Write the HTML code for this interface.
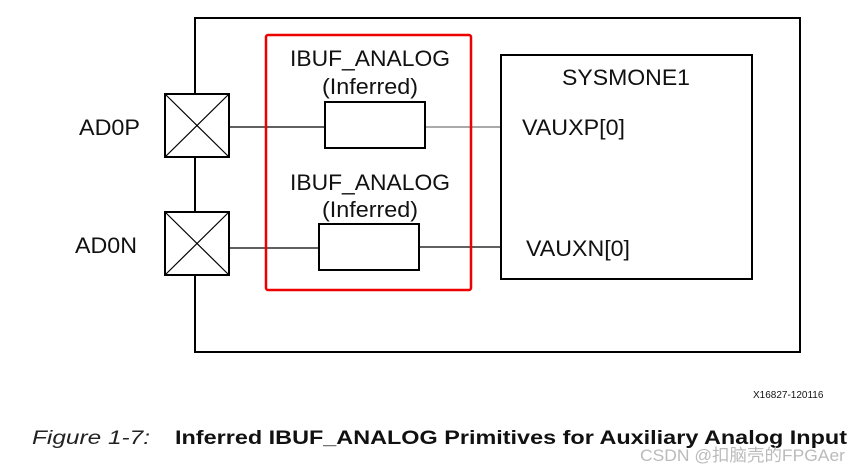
<!DOCTYPE html>
<html><head><style>body{margin:0;background:#fff}svg{display:block}</style></head><body>
<svg width="865" height="473" xmlns="http://www.w3.org/2000/svg" font-family="Liberation Sans, sans-serif">
<rect x="195" y="18" width="605" height="334" fill="none" stroke="#000" stroke-width="2"/>
<g stroke="#000" stroke-width="2" fill="#fff">
<rect x="165" y="94" width="64" height="63"/>
<rect x="165" y="212" width="64" height="63"/>
</g>
<g stroke="#000" stroke-width="1.2">
<line x1="165" y1="94" x2="229" y2="157"/><line x1="229" y1="94" x2="165" y2="157"/>
<line x1="165" y1="212" x2="229" y2="275"/><line x1="229" y1="212" x2="165" y2="275"/>
<line x1="229" y1="127" x2="325" y2="127"/><line x1="425" y1="127" x2="501" y2="127" stroke="#777"/>
<line x1="229" y1="248" x2="319" y2="248"/><line x1="419" y1="247" x2="501" y2="247"/>
</g>
<rect x="266" y="35" width="205" height="255" fill="none" stroke="#e00" stroke-width="2.5" rx="2"/>
<g stroke="#000" stroke-width="2" fill="#fff">
<rect x="325" y="102" width="100" height="46"/>
<rect x="319" y="224" width="100" height="46"/>
<rect x="501" y="55" width="251" height="224"/>
</g>
<g font-size="22" fill="#111">
<text x="290" y="66" textLength="160" lengthAdjust="spacingAndGlyphs">IBUF_ANALOG</text>
<text x="322" y="94" textLength="96" lengthAdjust="spacingAndGlyphs">(Inferred)</text>
<text x="290" y="190" textLength="160" lengthAdjust="spacingAndGlyphs">IBUF_ANALOG</text>
<text x="322" y="217" textLength="96" lengthAdjust="spacingAndGlyphs">(Inferred)</text>
<text x="562" y="85" textLength="128" lengthAdjust="spacingAndGlyphs">SYSMONE1</text>
<text x="79" y="135" textLength="61" lengthAdjust="spacingAndGlyphs">AD0P</text>
<text x="75" y="253" textLength="62" lengthAdjust="spacingAndGlyphs">AD0N</text>
<text x="522" y="135" textLength="103" lengthAdjust="spacingAndGlyphs">VAUXP[0]</text>
<text x="526" y="256" textLength="104" lengthAdjust="spacingAndGlyphs">VAUXN[0]</text>
</g>
<text x="753" y="398" font-size="10" fill="#111">X16827-120116</text>
<text x="32" y="444" font-size="19" font-style="italic" fill="#222" textLength="118" lengthAdjust="spacingAndGlyphs">Figure 1-7:</text>
<text x="175" y="444" font-size="19" font-weight="bold" fill="#111" textLength="672" lengthAdjust="spacingAndGlyphs">Inferred IBUF_ANALOG Primitives for Auxiliary Analog Input</text>
<text x="640" y="461" font-size="17" fill="#bbb" textLength="205" lengthAdjust="spacingAndGlyphs" font-family="Liberation Sans, Noto Sans CJK SC, sans-serif">CSDN @扣脑壳的FPGAer</text>
</svg>
</body></html>
